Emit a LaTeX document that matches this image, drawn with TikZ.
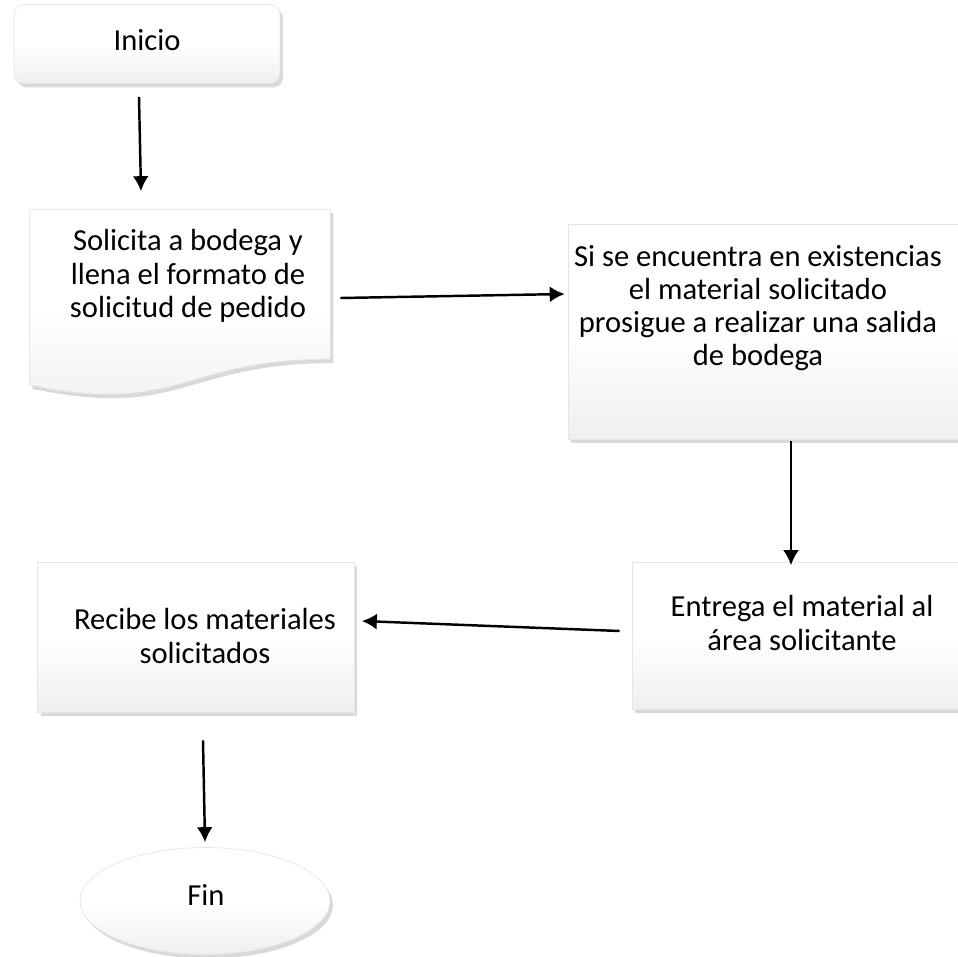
\documentclass[tikz,border=0pt]{standalone}
\usepackage{fontspec}
\setmainfont{Carlito}
\usepackage{tikz}
\usetikzlibrary{arrows.meta,calc,shapes.geometric,shadows}

\begin{document}
\begin{tikzpicture}[x=0.02cm,y=-0.02cm,
every node/.style={align=center,font=\fontsize{17.4}{18.9}\selectfont},
caja/.style={top color=white,bottom color=gray!12,middle color=white,draw=gray!20,drop shadow={shadow xshift=.6mm,shadow yshift=-.8mm,opacity=.3}},
go/.style={-{Latex[length=3mm,width=3.2mm]},line width=1.4pt}]
\useasboundingbox (0,0) rectangle (958,957);
\node[caja,rounded corners=2mm,minimum width=5.32cm,minimum height=1.58cm] (inicio) at (147,44) {};
\node (tinicio) at (147,40) {Inicio};
\node[minimum width=6cm,minimum height=3.5cm] (doc) at (180,297) {};
\draw[caja] (doc.north west) -- (doc.north east) -- ($(doc.north east)+(0,150)$)
  .. controls ($(doc.north)+(0,150)$) and ($(doc.north)+(0,207)$) .. (doc.south west) -- cycle;
\node (solicita) at (188,276) {Solicita a bodega y\\llena el formato de\\solicitud de pedido};
\node[caja,minimum width=7.8cm,minimum height=4.3cm] (existencias) at (763,332) {};
\node (salida) at (758,308) {Si se encuentra en existencias\\el material solicitado\\prosigue a realizar una salida\\de bodega};
\node[caja,minimum width=6.52cm,minimum height=2.94cm] (entrega) at (795,636) {};
\node (tentrega) at (802,623) {Entrega el material al\\área solicitante};
\node[caja,minimum width=6.34cm,minimum height=3cm] (recibe) at (196,637) {};
\node (trecibe) at (205,636) {Recibe los materiales\\solicitados};
\node[caja,ellipse,minimum width=5cm,minimum height=2.14cm] (fin) at (205,901) {};
\node (tfin) at (206,895) {Fin};
\draw[go] ($(inicio.south)+(-8,13)$) -- ($(doc.north)+(-39,-18)$);
\draw[go] ($(doc.east)+(10,1)$) -- ($(existencias.west)+(-3,-38)$);
\draw[go] ($(existencias.south)+(28,1)$) -- ($(entrega.north)+(-4,3)$);
\draw[go] ($(entrega.west)+(-12,-5)$) -- ($(recibe.east)+(7,-16)$);
\draw[go] ($(recibe.south)+(7,28)$) -- ($(fin.north)+(0,-5)$);
\end{tikzpicture}
\end{document}
